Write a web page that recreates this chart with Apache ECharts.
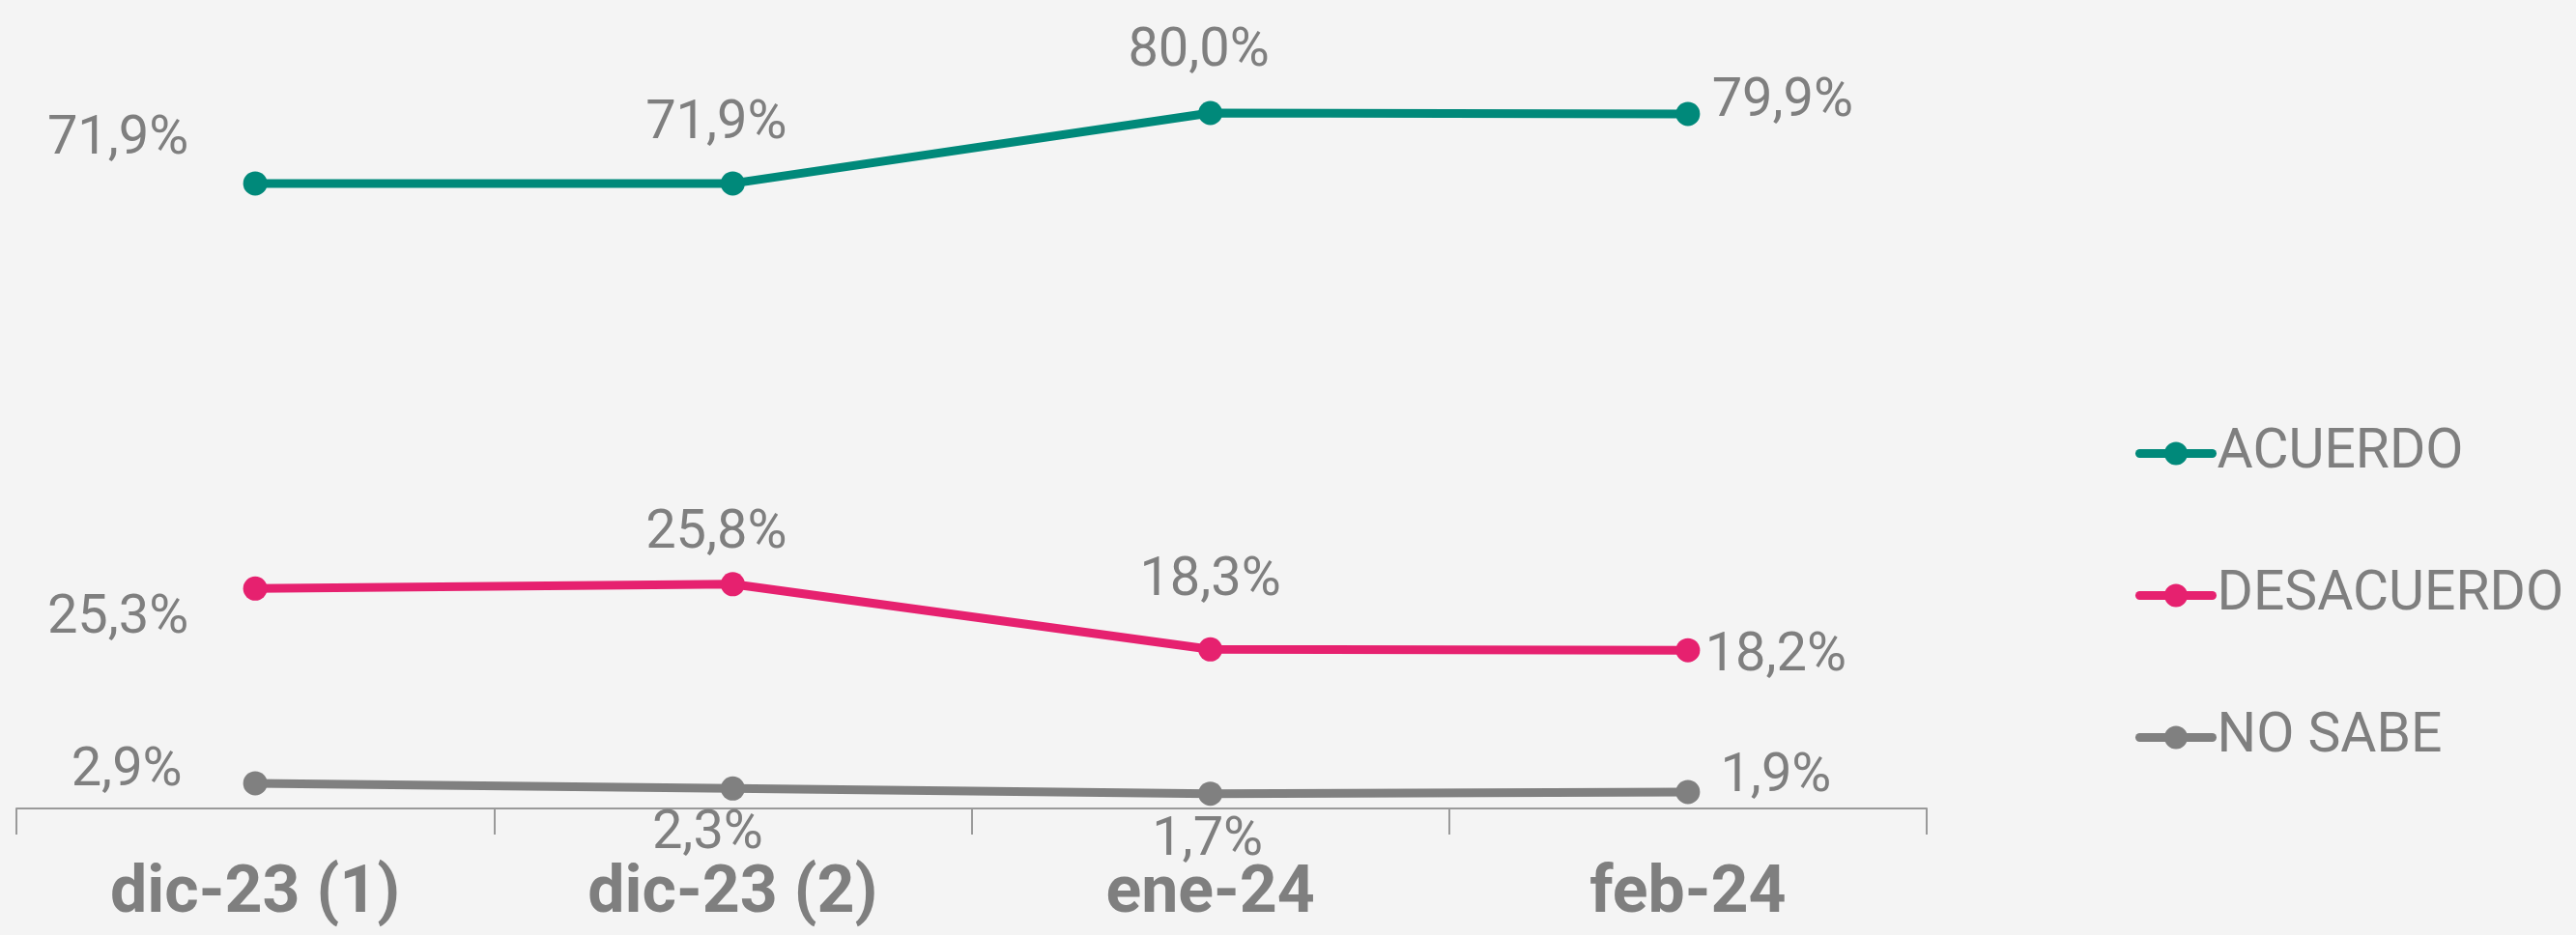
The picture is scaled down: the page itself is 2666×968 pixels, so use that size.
<!DOCTYPE html>
<html>
<head>
<meta charset="utf-8">
<script src="https://cdn.jsdelivr.net/npm/echarts@6/dist/echarts.min.js"></script>
<style>
html,body{margin:0;padding:0;background:#f4f4f4;}
#chart{width:2666px;height:968px;}
</style>
</head>
<body>
<div id="chart"></div>
<script>
const categories = ['dic-23 (1)', 'dic-23 (2)', 'ene-24', 'feb-24'];
const acuerdo = [71.9, 71.9, 80.0, 79.9];
const desacuerdo = [25.3, 25.8, 18.3, 18.2];
const noSabe = [2.9, 2.3, 1.7, 1.9];
const seriesNames = ['ACUERDO', 'DESACUERDO', 'NO SABE'];
const colors = ['#00897a', '#e6216f', '#808080'];

const labelOffsets = [
  [[-142, -45], [-17, -61], [-12, -63], [98, -12]],
  [[-142, 32], [-17, -52], [0, -70], [91, 7]],
  [[-133, -12], [-26, 48], [-3, 49], [91, -15]]
];

const textColor = '#7f7f7f';
const fontFam = 'Roboto, "Noto Sans", sans-serif';

function build(values, si) {
  return values.map((v, i) => ({
    value: v,
    label: {
      show: true,
      position: 'inside',
      offset: labelOffsets[si][i],
      formatter: (p) => p.value.toFixed(1).replace('.', ',') + '%',
      color: textColor,
      fontSize: 56,
      fontFamily: fontFam
    }
  }));
}

const chart = echarts.init(document.getElementById('chart'));
chart.setOption({
  backgroundColor: '#f4f4f4',
  animation: false,
  color: colors,
  grid: { left: 17, right: 672, top: 27, bottom: 131, containLabel: false },
  legend: {
    orient: 'vertical',
    left: 2205,
    top: 436,
    itemWidth: 75,
    itemHeight: 30,
    itemGap: 90,
    lineStyle: { width: 9, cap: 'round' },
    textStyle: { color: textColor, fontSize: 57, fontFamily: fontFam },
    data: seriesNames
  },
  xAxis: {
    type: 'category',
    data: categories,
    boundaryGap: true,
    axisLine: { lineStyle: { color: '#9a9a9a', width: 2 } },
    axisTick: { show: true, length: 27, lineStyle: { color: '#9a9a9a', width: 2 } },
    axisLabel: { color: textColor, fontSize: 68, fontWeight: 'bold', fontFamily: fontFam, margin: 56, interval: 0 }
  },
  yAxis: { type: 'value', min: 0, max: 90, show: false, splitLine: { show: false } },
  series: [acuerdo, desacuerdo, noSabe].map((vals, si) => ({
    name: seriesNames[si],
    type: 'line',
    data: build(vals, si),
    symbol: 'circle',
    symbolSize: 25,
    lineStyle: { width: 9, color: colors[si], cap: 'round' },
    itemStyle: { color: colors[si] }
  }))
});
</script>
</body>
</html>
